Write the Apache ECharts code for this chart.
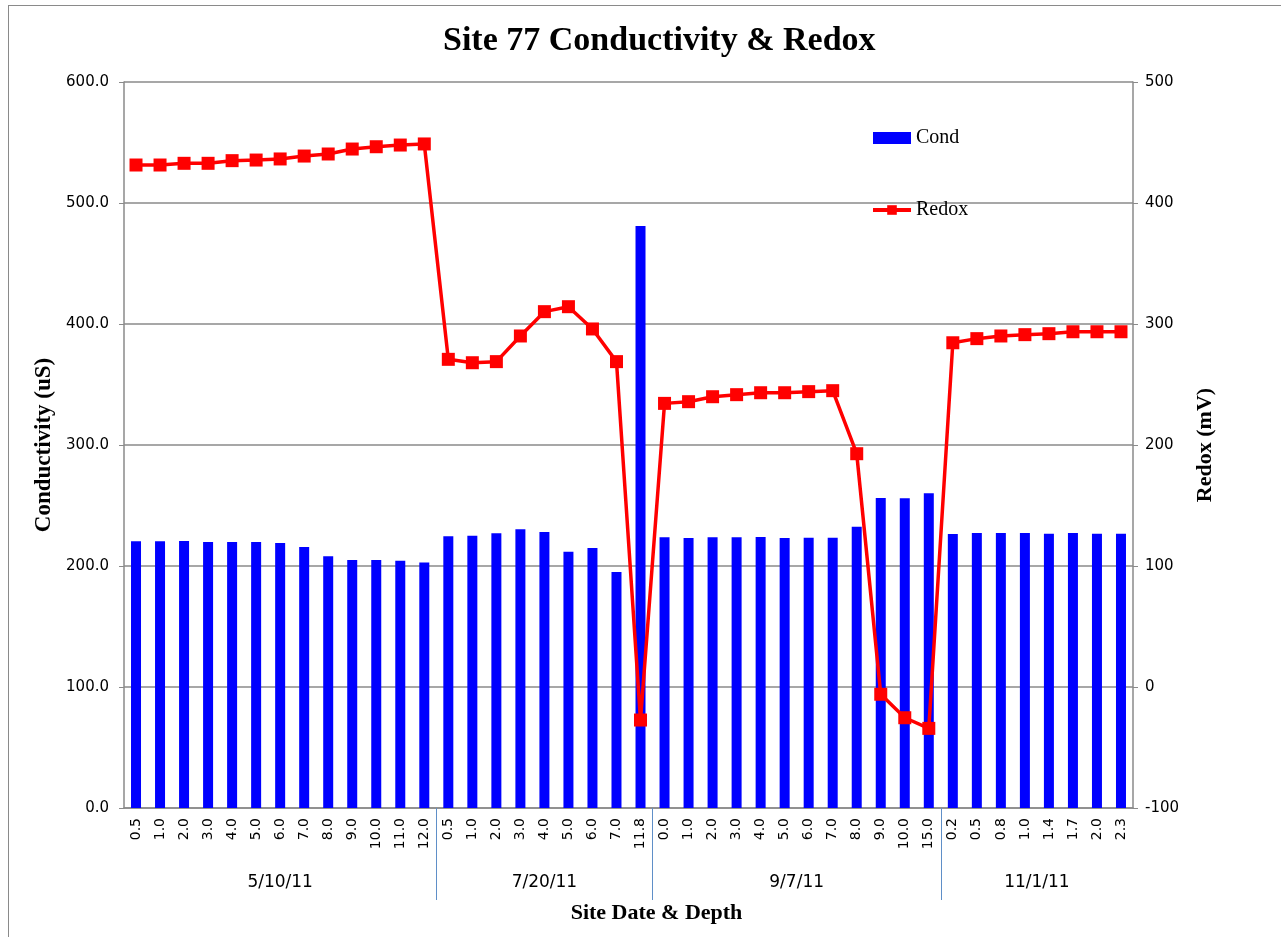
<!DOCTYPE html>
<html>
<head>
<meta charset="utf-8">
<title>Site 77 Conductivity & Redox</title>
<script src="https://cdn.jsdelivr.net/npm/echarts@6/dist/echarts.min.js"></script>
<style>
  html, body { margin: 0; padding: 0; background: #fff; }
  #frame { position: absolute; left: 8px; top: 5px; width: 1300px; height: 960px; border: 1px solid #8a8a8a; pointer-events: none; }
  #chart { position: absolute; left: 0; top: 0; width: 1281px; height: 937px; }
</style>
</head>
<body>
<div id="chart"></div>
<div id="frame"></div>
<script>
// depth labels, grouped by sampling date
const depths = [
  '0.5', '1.0', '2.0', '3.0', '4.0', '5.0', '6.0', '7.0', '8.0', '9.0', '10.0', '11.0', '12.0',
  '0.5', '1.0', '2.0', '3.0', '4.0', '5.0', '6.0', '7.0', '11.8',
  '0.0', '1.0', '2.0', '3.0', '4.0', '5.0', '6.0', '7.0', '8.0', '9.0', '10.0', '15.0',
  '0.2', '0.5', '0.8', '1.0', '1.4', '1.7', '2.0', '2.3'
]
const dates = ['5/10/11', '7/20/11', '9/7/11', '11/1/11']
const dateSizes = [13, 9, 12, 8]

// conductivity (uS)
const cond = [
  220.4, 220.4, 220.7, 219.8, 219.8, 219.8, 219.0, 215.7, 208.0, 205.0, 205.0, 204.4, 202.8,
  224.5, 225.1, 227.0, 230.3, 228.1, 211.8, 214.9, 195.0, 481.0,
  223.7, 223.1, 223.7, 223.7, 224.0, 223.1, 223.4, 223.4, 232.5, 256.2, 255.9, 260.1,
  226.4, 227.3, 227.3, 227.3, 226.7, 227.3, 226.7, 226.7
]

// redox (mV)
const redox = [
  431.4, 431.4, 432.8, 432.8, 435.0, 435.5, 436.4, 438.8, 440.5, 444.6, 446.5, 447.9, 448.8,
  270.8, 268.0, 268.9, 290.1, 310.2, 314.3, 295.9, 268.9, -27.3,
  234.4, 235.8, 239.9, 241.6, 243.2, 243.2, 244.1, 244.9, 192.8, -6.0, -25.4, -34.2,
  284.5, 287.9, 290.1, 291.2, 292.0, 293.6, 293.6, 293.6
]

// group boundaries and centres, in category units
const bounds = []
const centres = []
let acc = 0
dateSizes.forEach((n, i) => {
  centres.push(acc + n / 2)
  acc += n
  if (i < dateSizes.length - 1) bounds.push(acc)
})

const serif = 'Liberation Serif'
const sans = 'DejaVu Sans'
const gridColor = '#8a8a8a'

const chart = echarts.init(document.getElementById('chart'))
chart.setOption({
  animation: false,
  title: {
    text: 'Site 77 Conductivity & Redox',
    left: 438,
    top: 19,
    textStyle: { fontFamily: serif, fontSize: 34, fontWeight: 'bold', color: '#000' }
  },
  legend: {
    orient: 'vertical',
    left: 866,
    top: 123,
    itemWidth: 38,
    itemHeight: 12,
    itemGap: 52,
    textStyle: { fontFamily: serif, fontSize: 20, color: '#000' },
    data: [
      { name: 'Cond', icon: 'rect' },
      { name: 'Redox', lineStyle: { width: 4 } }
    ]
  },
  grid: { left: 124, right: 148, top: 82, bottom: 129 },
  xAxis: [
    {
      type: 'category',
      data: depths,
      axisLine: { lineStyle: { color: gridColor, width: 1.5 } },
      axisTick: { show: false },
      axisLabel: {
        rotate: 90,
        interval: 0,
        margin: 10,
        fontFamily: sans,
        fontSize: 14,
        color: '#000'
      }
    },
    {
      type: 'value',
      min: 0,
      max: depths.length,
      position: 'bottom',
      name: 'Site Date & Depth',
      nameLocation: 'middle',
      nameGap: 94,
      nameTextStyle: { fontFamily: serif, fontSize: 22, fontWeight: 'bold', color: '#000', padding: [0, 0, 0, 56] },
      axisLine: { show: false, onZero: false },
      splitLine: { show: false },
      axisTick: {
        show: true,
        inside: false,
        customValues: bounds,
        length: 92,
        lineStyle: { color: '#5f8fc8', width: 1 }
      },
      axisLabel: {
        customValues: centres,
        margin: 66,
        fontFamily: sans,
        fontSize: 17,
        color: '#000',
        formatter: v => dates[centres.indexOf(v)]
      }
    }
  ],
  yAxis: [
    {
      type: 'value',
      min: 0,
      max: 600,
      interval: 100,
      name: 'Conductivity (uS)',
      nameLocation: 'middle',
      nameRotate: 90,
      nameGap: 65,
      nameTextStyle: { fontFamily: serif, fontSize: 23, fontWeight: 'bold', color: '#000', padding: [0, 0, 0, 0] },
      axisLine: { show: true, lineStyle: { color: gridColor, width: 1.5 } },
      axisTick: { show: true, length: 5, lineStyle: { color: gridColor } },
      axisLabel: {
        margin: 15,
        fontFamily: sans,
        fontSize: 15,
        color: '#000',
        formatter: v => v.toFixed(1)
      },
      splitLine: { lineStyle: { color: gridColor, width: 1.5 } }
    },
    {
      type: 'value',
      min: -100,
      max: 500,
      interval: 100,
      position: 'right',
      name: 'Redox (mV)',
      nameLocation: 'middle',
      nameRotate: 90,
      nameGap: 61,
      nameTextStyle: { fontFamily: serif, fontSize: 22, fontWeight: 'bold', color: '#000' },
      axisLine: { show: true, lineStyle: { color: gridColor, width: 1.5 } },
      axisTick: { show: true, length: 5, lineStyle: { color: gridColor } },
      axisLabel: {
        margin: 12,
        fontFamily: sans,
        fontSize: 15,
        color: '#000'
      },
      splitLine: { show: false }
    }
  ],
  series: [
    {
      name: 'Cond',
      type: 'bar',
      xAxisIndex: 0,
      yAxisIndex: 0,
      barWidth: 10,
      itemStyle: { color: '#0000ff' },
      data: cond
    },
    {
      name: 'Redox',
      type: 'line',
      xAxisIndex: 0,
      yAxisIndex: 1,
      symbol: 'rect',
      symbolSize: 13,
      itemStyle: { color: '#ff0000' },
      lineStyle: { color: '#ff0000', width: 3.5 },
      z: 5,
      data: redox
    }
  ]
})
</script>
</body>
</html>
